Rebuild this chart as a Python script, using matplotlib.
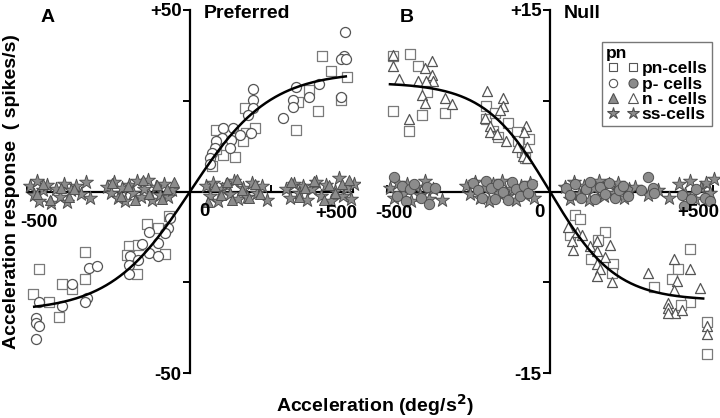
import numpy as np
import matplotlib
matplotlib.use("Agg")
import matplotlib.pyplot as plt
from matplotlib.lines import Line2D
from matplotlib.legend_handler import HandlerTuple

plt.rcParams['font.family'] = ['Liberation Sans', 'DejaVu Sans']
plt.rcParams['font.weight'] = 'bold'

# ---------------- data: panel A (preferred) ----------------
a_sq_x = [406, 432, 483, 366, 462, 330, 393, 325, 168, 198, 173, 163, 81, 102, 137, 66, 81,
          -63, -132, -97, -186, -158, -193, -78, -163, -322, -462, -322, -393, -363, -483, -432, -401]
a_sq_y = [37.4, 33.3, 31.5, 27.9, 25.2, 24.7, 22.3, 17.0, 22.9, 17.5, 16.1, 13.9, 17.0, 10.2, 9.5, 7.1, 11.6,
          -6.8, -8.8, -10.1, -14.9, -14.7, -17.4, -17.2, -22.8, -16.5, -21.2, -24.2, -25.4, -26.9, -28.3, -30.5, -34.4]
a_ci_x = [476, 473, 462, 478, 325, 366, 396, 315, 315, 285, 462, 193, 193, 193, 178, 102, 132, 188,
          152, 97, 127, 81, 122, 76, 66, 61, 61,
          -61, -66, -76, -127, -147, -97, -127, -97, -183, -158, -188, -188, -310, -284, -363, -315,
          -322, -462, -393, -473, -473, -462, -473]
a_ci_y = [43.8, 37.4, 36.5, 36.5, 28.8, 26.1, 29.7, 25.2, 23.4, 20.2, 26.1, 28.3, 25.2, 22.9, 21.1, 17.5, 17.5, 16.1,
          15.7, 14.8, 14.3, 13.9, 12.0, 12.0, 10.7, 9.3, 7.5,
          -7.4, -10.1, -11.5, -11.2, -14.5, -14.2, -16.9, -17.8, -17.8, -18.8, -20.1, -22.8, -21.0, -20.6, -25.5, -29.3,
          -30.5, -30.3, -31.4, -34.8, -36.2, -37.1, -40.5]
a_st_x = [-492, -480, -470, -462, -450, -438, -425, -412, -400, -388, -378, -365, -350, -335, -318, -306,
          -255, -243, -232, -220, -210, -198, -186, -175, -163, -150, -140, -128, -116, -104, -92, -80, -68, -56,
          48, 60, 72, 85, 98, 110, 122, 135, 148, 162, 176, 190, 205, 220, 236,
          296, 308, 320, 333, 347, 360, 373, 388, 402, 418, 432, 446, 458, 470, 482, 494, 503]
a_st_y = [1.5, -1.0, 2.8, -2.5, 0.5, 1.8, -3.2, 0.8, -1.5, 2.2, -2.8, 0.3, 1.6, -0.8, 2.5, -1.9,
          1.2, -0.5, 2.6, -1.8, 0.9, -2.7, 1.9, -0.3, 2.9, -1.4, 0.6, 3.1, -2.2, 1.3, -0.9, 2.1, -1.6, 0.4,
          1.6, -1.2, 2.4, -2.6, 0.7, 1.9, -0.6, 3.0, -2.0, 1.1, -1.5, 2.3, -0.4, 1.4, -2.3,
          0.8, -1.7, 2.0, -0.5, 1.5, -2.4, 0.6, 2.7, -1.1, 1.8, -2.6, 0.2, 3.8, -1.3, 1.0, -2.1, 2.2]
a_tr_x = [-470, -452, -430, -395, -372, -355, -238, -212, -190, -168, -145, -125, -100, -85, -70, -50,
          55, 78, 95, 115, 130, 145, 160, 180, 198, 215, 310, 335, 352, 380, 410, 425, 445, 465, 488]
a_tr_y = [-0.8, 2.0, -2.2, 1.1, -1.6, 0.6, 2.4, -1.2, 1.6, -2.4, 3.2, -0.6, 1.9, -2.0, 0.8, 2.7,
          -2.8, 1.4, -0.9, 2.7, -2.2, 3.4, 0.3, -1.8, 2.0, -0.8, 2.5, -1.4, 0.9, 3.0, -2.3, 1.7, -0.5, 2.2, 3.1]

# ---------------- data: panel B (null) ----------------
b_sq_x = [-481, -429, -404, -378, -483, -394, -432, -322, -196, -196, -169, -128, -174, -159, -102, -63, -97, -87, -77,
          77, 92, 61, 169, 148, 126, 194, 189, 429, 392, 375, 320, 429, 402, 481, 481]
b_sq_y = [11.2, 11.4, 10.35, 8.2, 6.65, 6.3, 5.0, 6.5, 7.1, 6.0, 6.5, 5.65, 5.0, 4.5, 4.9, 4.3, 4.2, 3.3, 2.8,
          -1.96, -2.3, -3.6, -3.3, -4.0, -5.6, -5.95, -6.7, -4.75, -6.4, -7.2, -7.85, -9.15, -9.4, -10.8, -13.45]
b_tr_x = [-483, -481, -363, -383, -363, -358, -462, -404, -380, -394, -383, -322, -301, -432,
          -194, -145, -145, -153, -199, -184, -184, -162, -135, -74, -80, -102, -71, -82, -71,
          56, 82, 97, 66, 72, 123, 143, 184, 143, 169, 143, 153, 143, 191, 300, 381, 429, 389, 381,
          460, 361, 361, 383, 404, 363, 481, 481]
b_tr_y = [11.3, 10.35, 10.8, 10.2, 9.6, 9.1, 9.3, 9.1, 9.1, 8.0, 7.3, 7.7, 7.2, 6.0,
          8.3, 7.7, 7.1, 6.7, 6.1, 5.4, 4.9, 4.75, 4.2, 5.4, 4.9, 3.7, 3.7, 2.9, 2.75,
          -2.9, -3.3, -3.6, -4.1, -4.8, -4.5, -4.1, -4.4, -4.9, -5.4, -6.0, -6.4, -7.0, -7.5, -6.7, -5.6, -6.4, -7.4, -8.1,
          -8.0, -9.2, -9.6, -10.0, -9.75, -10.0, -11.1, -11.8]
b_st_x = [-490, -478, -466, -452, -440, -425, -410, -398, -385, -372, -360, -330,
          -258, -244, -230, -216, -202, -188, -174, -160, -146, -132, -118, -104, -90, -76, -62, -48,
          45, 60, 75, 90, 105, 120, 135, 150, 165, 180, 195, 210, 228, 242,
          262, 300, 330, 365, 395, 415, 430, 445, 462, 478, 492, 502]
b_st_y = [0.3, -0.5, 0.7, -0.2, 0.6, -0.8, 0.4, -0.3, 0.9, -0.6, 0.2, -0.7,
          0.5, -0.2, 0.8, -0.5, 0.3, -0.8, 0.6, -0.1, 0.9, -0.4, 0.2, -0.7, 0.5, -0.3, 0.7, -0.5,
          0.4, -0.6, 0.8, -0.2, 0.5, -0.7, 0.3, 0.9, -0.4, 0.6, -0.1, 0.7, -0.5, 0.2,
          0.4, -0.3, 0.1, -0.5, 0.6, -0.2, 0.9, -0.6, 0.3, 0.7, -0.1, 1.0]
b_ci_x = [-480, -470, -455, -442, -430, -418, -395, -378, -370, -352,
          -235, -222, -210, -196, -182, -170, -158, -145, -130, -118, -105, -92, -80, -66, -55,
          50, 62, 78, 95, 110, 122, 138, 152, 168, 182, 198, 212, 225, 238,
          280, 300, 315, 320, 405, 412, 432, 448, 475, 490]
b_ci_y = [1.2, -0.4, 0.5, -0.8, 0.2, 0.6, -0.5, 0.4, -1.0, 0.3,
          0.7, 0.1, -0.5, 0.9, 0.3, -0.6, 0.6, 0.0, -0.7, 0.8, 0.2, -0.4, 0.5, -0.1, 0.6,
          0.3, -0.3, 0.6, -0.5, 0.2, 0.8, -0.6, 0.4, -0.2, 0.7, -0.5, 0.1, 0.5, -0.4,
          0.1, 1.2, 0.3, -0.1, -0.3, -1.2, -0.6, 0.2, -0.5, -0.8]

# fitted curves (y = amp * tanh(x / scale))
a_fit_amp, a_fit_scale, a_fit_range = 33.0, 245.0, (-478, 478)
b_fit_amp, b_fit_scale, b_fit_range = -9.0, 202.0, (-491, 470)

W, H = 720, 418
fig = plt.figure(figsize=(W / 100, H / 100), dpi=100)

open_sq = dict(marker='s', facecolor='white', edgecolor='#7a7a7a', linewidths=0.9, s=42, zorder=3)
open_ci = dict(marker='o', facecolor='white', edgecolor='#555555', linewidths=0.9, s=52, zorder=3)
open_tr = dict(marker='^', facecolor='white', edgecolor='#555555', linewidths=0.9, s=52, zorder=3)
fill_st = dict(marker='*', facecolor='#8c8c8c', edgecolor='#505050', linewidths=0.7, s=110, zorder=3)
fill_tr = dict(marker='^', facecolor='#8c8c8c', edgecolor='#505050', linewidths=0.7, s=52, zorder=3)
fill_ci = dict(marker='o', facecolor='#8c8c8c', edgecolor='#505050', linewidths=0.7, s=55, zorder=3)


def setup(ax, ylim, ylabels):
    for s in ['top', 'right']:
        ax.spines[s].set_visible(False)
    ax.spines['left'].set_position('zero')
    ax.spines['bottom'].set_position('zero')
    ax.spines['left'].set_bounds(-ylim, ylim)
    ax.spines['bottom'].set_bounds(-500, 500)
    for s in ['left', 'bottom']:
        ax.spines[s].set_linewidth(1.6)
        ax.spines[s].set_zorder(2)
    ax.set_xlim(-520, 520)
    ax.set_ylim(-ylim * 1.04, ylim * 1.04)
    ax.set_xticks([-500, -250, 250, 500])
    ax.set_xticklabels([])
    ax.set_yticks([-ylim, -ylim / 2, ylim / 2, ylim])
    ax.set_yticklabels(ylabels)
    ax.tick_params(axis='x', direction='in', length=5, width=1.4)
    ax.tick_params(axis='y', direction='out', length=5, width=1.4, labelsize=13.5, pad=1)
    for t in ax.get_yticklabels():
        t.set_fontweight('bold')
    ax.patch.set_alpha(0)


# Panel A
axA = fig.add_axes([20.5 / W, 0.0897, 339 / W, 0.904])
setup(axA, 50, ['-50', '', '', '+50'])
axA.scatter(a_st_x, a_st_y, **fill_st)
axA.scatter(a_tr_x, a_tr_y, **fill_tr)
axA.scatter(a_sq_x, a_sq_y, **open_sq)
axA.scatter(a_ci_x, a_ci_y, **open_ci)
xa = np.linspace(*a_fit_range, 200)
axA.plot(xa, a_fit_amp * np.tanh(xa / a_fit_scale), color='black', lw=1.8, zorder=4)
axA.text(45, -5.4, '0', ha='center', va='center', fontsize=13.5, fontweight='bold')
axA.text(-462, -8.4, '-500', ha='center', va='center', fontsize=13.5, fontweight='bold')
axA.text(448, -5.9, '+500', ha='center', va='center', fontsize=13.5, fontweight='bold')

# Panel B
axB = fig.add_axes([380.5 / W, 0.0897, 339 / W, 0.904])
setup(axB, 15, ['-15', '', '', '+15'])
axB.scatter(b_st_x, b_st_y, **fill_st)
axB.scatter(b_ci_x, b_ci_y, **fill_ci)
axB.scatter(b_sq_x, b_sq_y, **open_sq)
axB.scatter(b_tr_x, b_tr_y, **open_tr)
xb = np.linspace(*b_fit_range, 200)
axB.plot(xb, b_fit_amp * np.tanh(xb / b_fit_scale), color='black', lw=1.8, zorder=4)
axB.text(-480, -1.78, '-500', ha='center', va='center', fontsize=13.5, fontweight='bold')
axB.text(-31, -1.7, '0', ha='center', va='center', fontsize=13.5, fontweight='bold')
axB.text(454, -1.7, '+500', ha='center', va='center', fontsize=13.5, fontweight='bold')

# panel titles
fig.text(48 / W, 1 - 18 / H, 'A', ha='center', va='center', fontsize=14, fontweight='bold')
fig.text(204 / W, 1 - 14 / H, 'Preferred', ha='left', va='center', fontsize=14, fontweight='bold')
fig.text(407 / W, 1 - 18 / H, 'B', ha='center', va='center', fontsize=14, fontweight='bold')
fig.text(564 / W, 1 - 13 / H, 'Null', ha='left', va='center', fontsize=14, fontweight='bold')

fig.text(12 / W, 1 - 192 / H, 'Acceleration response  ( spikes/s)', rotation=90,
         ha='center', va='center', fontsize=14, fontweight='bold')
fig.text(375 / W, 1 - 405 / H, 'Acceleration (deg/s$^\\mathbf{2}$)', ha='center', va='center',
         fontsize=14, fontweight='bold')

# legend
def mk(marker, fc, ec, ms):
    return Line2D([], [], linestyle='none', marker=marker, markerfacecolor=fc,
                  markeredgecolor=ec, markersize=ms, markeredgewidth=0.8)

handles = [
    (mk('s', 'white', '#555555', 6), mk('s', 'white', '#555555', 6)),
    (mk('o', 'white', '#555555', 6), mk('o', '#8c8c8c', '#505050', 6.5)),
    (mk('^', '#8c8c8c', '#505050', 6.5), mk('^', 'white', '#555555', 6.5)),
    (mk('*', '#8c8c8c', '#505050', 9), mk('*', '#8c8c8c', '#505050', 9)),
]
labels = ['pn-cells', 'p- cells', 'n - cells', 'ss-cells']
leg = fig.legend(handles, labels, handler_map={tuple: HandlerTuple(ndivide=None, pad=0.4)},
                 loc='upper right', bbox_to_anchor=(712 / W, 1 - 42 / H),
                 title='pn', alignment='left', fontsize=12.5, title_fontsize=12.5,
                 frameon=True, fancybox=False, edgecolor='#777777', framealpha=1,
                 handlelength=1.9, handletextpad=0.15, labelspacing=0.0,
                 borderpad=0.25, borderaxespad=0)
leg.get_title().set_fontweight('bold')
leg.get_frame().set_linewidth(1.0)
for t in leg.get_texts():
    t.set_fontweight('bold')

fig.savefig('out.png', dpi=100)
